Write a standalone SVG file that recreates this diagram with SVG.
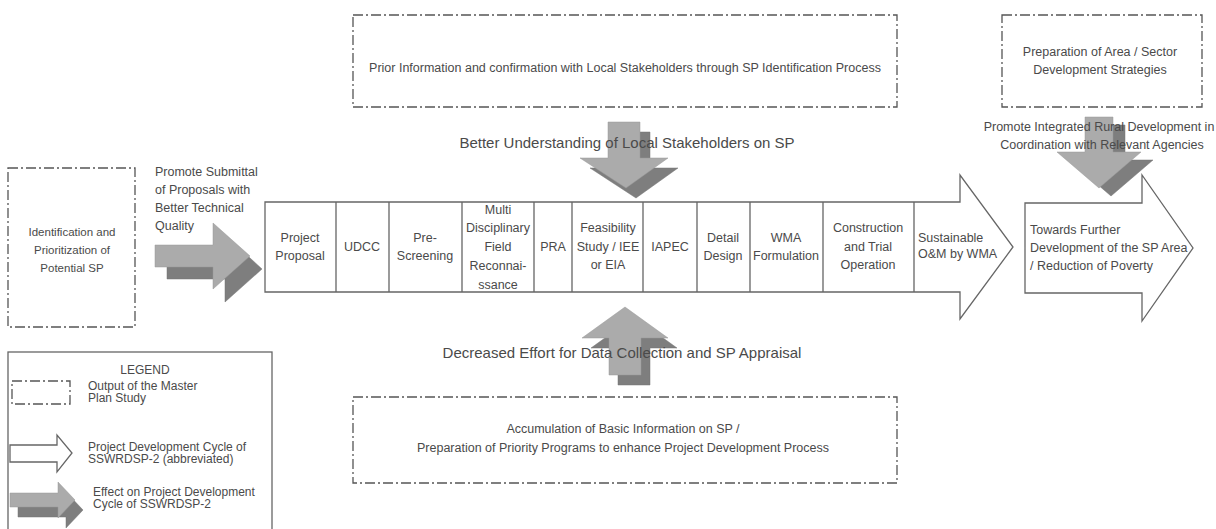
<svg xmlns="http://www.w3.org/2000/svg" width="1216" height="529" viewBox="0 0 1216 529">
<style>
text{font-family:"Liberation Sans",Arial,sans-serif;fill:#4a4a4a;}
.t11{font-size:11.5px;}
.t12{font-size:12.5px;}
.tl{font-size:12px;}
.t15{font-size:15px;}
.mid{text-anchor:middle;}
.dd{fill:#fff;stroke:#555;stroke-width:1.3;stroke-dasharray:10 3 2 3;}
.cyc{fill:#fff;stroke:#666;stroke-width:1.3;}
.cell{stroke:#666;stroke-width:1.3;fill:none;}
.lt{fill:#ababab;stroke:#999;stroke-width:0.5;}
.dk{fill:#7e7e7e;stroke:#777;stroke-width:0.5;}
</style>
<rect width="1216" height="529" fill="#fff"/>

<g id="connectors">
  <g id="arrow-left">
    <path class="dk" d="M167,257 H225 V235 L262,269 L225,302 V279 H167 Z"/>
    <path class="lt" d="M155,245 H213 V223 L250,256 L213,289 V267 H155 Z"/>
  </g>
  <g id="arrow-top">
    <path class="dk" d="M618,132 H650 V168 H678 L636,198 L590,168 H618 Z"/>
    <path class="lt" d="M608,122 H640 V158 H668 L626,188 L580,158 H608 Z"/>
  </g>
  <g id="arrow-bottom">
    <path class="dk" d="M618,385 H650 V348 H677 L634,317 L591,348 H618 Z"/>
    <path class="lt" d="M609,375 H641 V338 H668 L625,307 L582,338 H609 Z"/>
  </g>
  <g id="arrow-right">
    <path class="dk" d="M1097,125 H1125 V160 H1153 L1111,196 L1069,160 H1097 Z"/>
    <path class="lt" d="M1085,117 H1113 V152 H1141 L1099,188 L1057,152 H1085 Z"/>
  </g>
</g>

<g id="node-left-box">
  <rect class="dd" x="8" y="168" width="127" height="159"/>
  <text class="t11 mid" x="72" y="236">Identification and</text>
  <text class="t11 mid" x="72" y="254">Prioritization of</text>
  <text class="t11 mid" x="72" y="272">Potential SP</text>
</g>

<g id="label-promote">
  <text class="t12" x="155" y="176">Promote Submittal</text>
  <text class="t12" x="155" y="194">of Proposals with</text>
  <text class="t12" x="155" y="212">Better Technical</text>
  <text class="t12" x="155" y="230">Quality</text>
</g>

<g id="node-top-box">
  <rect class="dd" x="353" y="15" width="544" height="92"/>
  <text class="t12 mid" x="625" y="72">Prior Information and confirmation with Local Stakeholders through SP Identification Process</text>
</g>
<text id="label-better" class="t15 mid" x="627" y="148">Better Understanding of Local Stakeholders on SP</text>

<g id="node-bottom-box">
  <rect class="dd" x="353" y="397" width="544" height="86"/>
  <text class="t12 mid" x="623" y="433">Accumulation of Basic Information on SP /</text>
  <text class="t12 mid" x="623" y="452">Preparation of Priority Programs to enhance Project Development Process</text>
</g>
<text id="label-decreased" class="t15 mid" x="622" y="358">Decreased Effort for Data Collection and SP Appraisal</text>

<g id="node-cycle">
  <path class="cyc" d="M265,202 H960 V175 L1013,247 L960,319 V292 H265 Z"/>
  <path class="cell" d="M336,202 V292 M389,202 V292 M462,202 V292 M534,202 V292 M572,202 V292 M643,202 V292 M697,202 V292 M750,202 V292 M823,202 V292 M914,202 V292"/>
  <text class="t12 mid" x="300" y="242">Project</text>
  <text class="t12 mid" x="300" y="260">Proposal</text>
  <text class="t12 mid" x="362" y="251">UDCC</text>
  <text class="t12 mid" x="425" y="242">Pre-</text>
  <text class="t12 mid" x="425" y="260">Screening</text>
  <text class="t12 mid" x="498" y="214">Multi</text>
  <text class="t12 mid" x="498" y="232">Disciplinary</text>
  <text class="t12 mid" x="498" y="251">Field</text>
  <text class="t12 mid" x="498" y="270">Reconnai-</text>
  <text class="t12 mid" x="498" y="289">ssance</text>
  <text class="t12 mid" x="553" y="251">PRA</text>
  <text class="t12 mid" x="608" y="232">Feasibility</text>
  <text class="t12 mid" x="608" y="251">Study / IEE</text>
  <text class="t12 mid" x="608" y="269">or EIA</text>
  <text class="t12 mid" x="670" y="251">IAPEC</text>
  <text class="t12 mid" x="723" y="242">Detail</text>
  <text class="t12 mid" x="723" y="260">Design</text>
  <text class="t12 mid" x="786" y="242">WMA</text>
  <text class="t12 mid" x="786" y="260">Formulation</text>
  <text class="t12 mid" x="868" y="232">Construction</text>
  <text class="t12 mid" x="868" y="251">and Trial</text>
  <text class="t12 mid" x="868" y="269">Operation</text>
  <text class="t12" x="918" y="242">Sustainable</text>
  <text class="t12" x="918" y="258">O&amp;M by WMA</text>
</g>

<g id="node-further">
  <path class="cyc" d="M1025,203 H1142 V175 L1193,248 L1142,321 V293 H1025 Z"/>
  <text class="t12" x="1030" y="234">Towards Further</text>
  <text class="t12" x="1030" y="252">Development of the SP Area</text>
  <text class="t12" x="1030" y="270">/ Reduction of Poverty</text>
</g>

<g id="node-top-right-box">
  <rect class="dd" x="1002" y="15" width="200" height="92"/>
  <text class="t12 mid" x="1100" y="56">Preparation of Area / Sector</text>
  <text class="t12 mid" x="1100" y="74">Development  Strategies</text>
</g>
<g id="label-integrated">
  <text class="t12 mid" x="1099" y="131">Promote Integrated Rural Development in</text>
  <text class="t12 mid" x="1102" y="149">Coordination with Relevant Agencies</text>
</g>

<g id="legend">
  <rect x="8" y="352" width="264" height="200" fill="#fff" stroke="#666" stroke-width="1.3"/>
  <text class="tl mid" x="145" y="374">LEGEND</text>
  <rect class="dd" x="12" y="381" width="58" height="23"/>
  <text class="tl" x="88" y="390">Output of the Master</text>
  <text class="tl" x="88" y="402">Plan Study</text>
  <path class="cyc" d="M10,445 H57 V435 L72,453 L57,472 V462 H10 Z"/>
  <text class="tl" x="88" y="451">Project Development Cycle of</text>
  <text class="tl" x="88" y="463">SSWRDSP-2 (abbreviated)</text>
  <path class="dk" d="M18,503 H66 V492 L83,510 L66,528 V517 H18 Z"/>
  <path class="lt" d="M10,493 H58 V482 L75,500 L58,518 V507 H10 Z"/>
  <text class="tl" x="93" y="496">Effect on Project Development</text>
  <text class="tl" x="93" y="508">Cycle of SSWRDSP-2</text>
</g>
</svg>
